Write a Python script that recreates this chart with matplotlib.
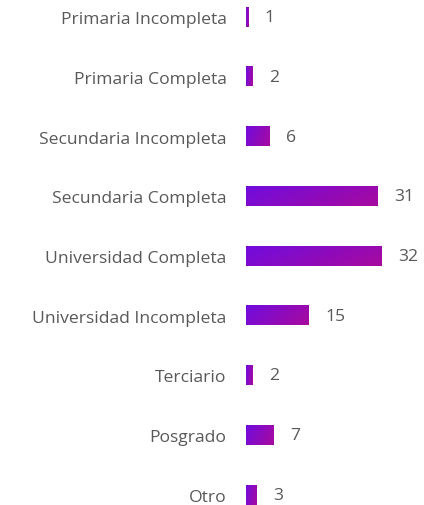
import numpy as np
import matplotlib.pyplot as plt

# Data
categories = ['Primaria Incompleta', 'Primaria Completa', 'Secundaria Incompleta',
              'Secundaria Completa', 'Universidad Completa', 'Universidad Incompleta',
              'Terciario', 'Posgrado', 'Otro']
values = [1, 2, 6, 31, 32, 15, 2, 7, 3]

plt.rcParams['font.family'] = ['Open Sans', 'DejaVu Sans']
text_color = '#595959'
xmin, xmax = 0.52, 40.8

fig = plt.figure(figsize=(4.24, 5.06), dpi=100)
ax = fig.add_axes([246 / 424, 0, 174 / 424, 1])

y = np.arange(len(categories))
bar_h = 0.32
bars = ax.barh(y, values, height=bar_h, color='none', edgecolor='none')

# diagonal gradient: blue-violet at bottom-left to magenta at top-right
c0 = np.array([112, 12, 222]) / 255
c1 = np.array([168, 10, 158]) / 255
gx, gy = np.meshgrid(np.linspace(0, 1, 200), np.linspace(0, 1, 20))
t = np.clip(0.75 * gx + 0.25 * gy, 0, 1)
grad = c0[None, None, :] * (1 - t[..., None]) + c1[None, None, :] * t[..., None]

for b in bars:
    x0, y0 = b.get_x(), b.get_y()
    w, h = b.get_width(), b.get_height()
    left = max(x0, xmin)
    ax.imshow(grad, extent=(left, x0 + w, y0 + h, y0), aspect='auto',
              interpolation='bilinear', zorder=2)

for yi, v in zip(y, values):
    ax.annotate(str(v), (v, yi), xytext=(12, 0), textcoords='offset points',
                va='center', ha='left', fontsize=12.6, color=text_color)

ax.set_xlim(xmin, xmax)
ax.set_ylim(8 + 10 / 59.75, -18 / 59.75)
ax.set_yticks(y)
ax.set_yticklabels(categories, fontsize=12.6, color=text_color)
ax.tick_params(axis='y', length=0, pad=14)
ax.set_xticks([])
for s in ax.spines.values():
    s.set_visible(False)

fig.savefig('out.png', dpi=100)
